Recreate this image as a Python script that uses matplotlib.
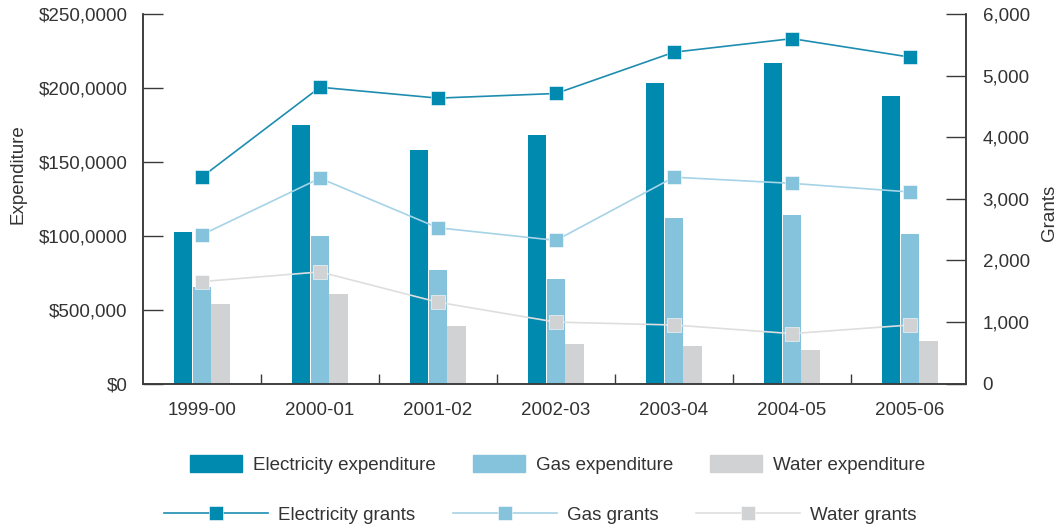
import numpy as np
import matplotlib.pyplot as plt
from matplotlib.lines import Line2D
from matplotlib.patches import Patch

plt.rcParams['font.family'] = ['Liberation Sans', 'DejaVu Sans']
plt.rcParams['font.size'] = 13.5
plt.rcParams['text.color'] = '#333333'

years = ['1999-00', '2000-01', '2001-02', '2002-03', '2003-04', '2004-05', '2005-06']

# expenditure, on the left axis scale
elec_exp = [102.6, 174.6, 157.8, 168, 203, 217, 194.4]
gas_exp = [65.4, 99.9, 76.5, 70.8, 112, 114, 101]
water_exp = [54.1, 60.6, 39.2, 27, 25.2, 22.5, 28.8]

# grants, right axis
elec_grants = [3355, 4811, 4634, 4709, 5380, 5600, 5300]
gas_grants = [2416, 3333, 2529, 2324, 3350, 3250, 3110]
water_grants = [1655, 1812, 1320, 997, 950, 810, 950]

exp_ticks = [0, 50, 100, 150, 200, 250]
exp_ticklabels = ['$0', '$500,000', '$100,0000', '$150,0000', '$200,0000', '$250,0000']
grant_ticks = [0, 1000, 2000, 3000, 4000, 5000, 6000]
grant_ticklabels = ['0', '1,000', '2,000', '3,000', '4,000', '5,000', '6,000']

c_elec = '#008AAF'
c_gas = '#84C3DB'
c_water = '#D1D2D4'
c_elec_line = '#1E8DB0'
c_gas_line = '#A6D3E6'
c_water_line = '#DEDEDF'
axis_col = '#3a3a3a'

fig = plt.figure(figsize=(10.62, 5.30), dpi=100)
ax = fig.add_axes([0.13465, 0.2764, 0.77495, 0.6972])
ax2 = ax.twinx()

x = np.arange(len(years))
w = 0.155
ax.bar(x - 0.16, elec_exp, w, color=c_elec, zorder=2)
ax.bar(x, gas_exp, w, color=c_gas, zorder=2)
ax.bar(x + 0.158, water_exp, w, color=c_water, zorder=2)

ax2.plot(x, elec_grants, color=c_elec_line, lw=1.2, marker='s', ms=9.4,
         mfc=c_elec, mec='white', mew=0.4)
ax2.plot(x, gas_grants, color=c_gas_line, lw=1.2, marker='s', ms=9.4,
         mfc=c_gas, mec='white', mew=0.4)
ax2.plot(x, water_grants, color=c_water_line, lw=1.2, marker='s', ms=9.4,
         mfc=c_water, mec='white', mew=0.4)

ax.set_xlim(-0.5, 6.475)
ax.set_ylim(0, 250)
ax2.set_ylim(0, 6000)

ax.set_xticks(x)
ax.set_xticklabels(years)
ax.set_xticks(x[:-1] + 0.5, minor=True)
ax.tick_params(axis='x', which='major', length=0, pad=13, labelsize=13.5, colors='#333333')
ax.tick_params(axis='x', which='minor', direction='in', length=7.2, width=1.0, color=axis_col)

ax.set_yticks(exp_ticks)
ax.set_yticklabels(exp_ticklabels)
ax.tick_params(axis='y', direction='in', length=14.4, width=1.0, color=axis_col,
               pad=11, labelsize=13.5, labelcolor='#333333')
ax2.set_yticks(grant_ticks)
ax2.set_yticklabels(grant_ticklabels)
ax2.tick_params(axis='y', direction='in', length=14.4, width=1.0, color=axis_col,
                pad=12, labelsize=13.5, labelcolor='#333333')

for a in (ax, ax2):
    a.spines['top'].set_visible(False)
    for s in ('left', 'right', 'bottom'):
        a.spines[s].set_color(axis_col)
        a.spines[s].set_linewidth(1.1)

ax.set_ylabel('Expenditure', fontsize=13.5, color='#333333')
ax.yaxis.set_label_coords(-0.141, 0.566)
ax2.set_ylabel('Grants', fontsize=13.5, color='#333333', rotation=90)
ax2.yaxis.set_label_coords(1.091, 0.463)

# legends: bars on one row, lines on the next
bar_handles = [Patch(color=c_elec), Patch(color=c_gas), Patch(color=c_water)]
fig.legend(bar_handles, ['Electricity expenditure', 'Gas expenditure', 'Water expenditure'],
           loc='center', bbox_to_anchor=(0.525, 0.1236), ncol=3, frameon=False,
           handlelength=2.77, handleheight=1.0, handletextpad=0.58, columnspacing=2.0,
           fontsize=13.5, borderpad=0)

line_handles = [
    Line2D([], [], color=c_elec_line, lw=1.2, marker='s', ms=9.4, mfc=c_elec, mec='white', mew=0.4),
    Line2D([], [], color=c_gas_line, lw=1.2, marker='s', ms=9.4, mfc=c_gas, mec='white', mew=0.4),
    Line2D([], [], color=c_water_line, lw=1.2, marker='s', ms=9.4, mfc=c_water, mec='white', mew=0.4),
]
fig.legend(line_handles, ['Electricity grants', 'Gas grants', 'Water grants'],
           loc='center', bbox_to_anchor=(0.5085, 0.0283), ncol=3, frameon=False,
           handlelength=5.55, handletextpad=0.53, columnspacing=2.0,
           fontsize=13.5, borderpad=0)

fig.savefig('out.png', dpi=100)
